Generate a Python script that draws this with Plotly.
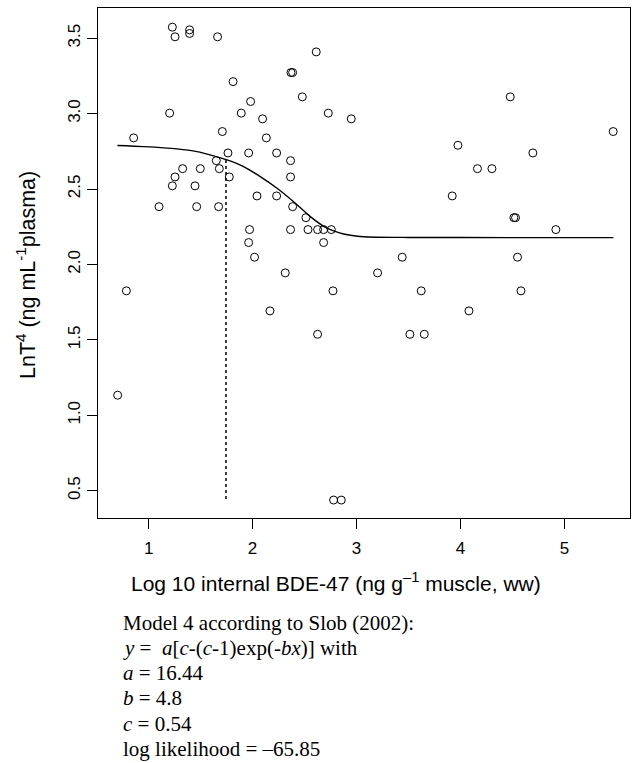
import plotly.graph_objects as go

# observed data (log10 BDE-47, LnT4)
bde47 = [1.228, 1.254, 1.394, 1.394, 1.663, 2.612, 2.369, 2.385, 1.812, 2.478,
         1.981, 1.202, 1.891, 2.728, 2.096, 2.949, 1.709, 0.856, 2.132, 1.763,
         1.962, 2.231, 1.651, 2.365, 1.327, 1.497, 1.680, 1.254, 1.776, 2.365,
         1.228, 1.446, 2.042, 2.231, 1.100, 1.462, 1.673, 2.385, 2.513, 1.971,
         2.365, 2.533, 2.625, 2.683, 2.757, 1.962, 2.683, 2.019, 2.314, 0.786,
         2.773, 2.167, 2.625, 0.702, 2.779, 2.853, 4.478, 5.468, 3.975, 4.696,
         4.163, 4.302, 3.920, 4.513, 4.529, 4.917, 3.439, 4.548, 3.202, 3.622,
         4.581, 4.081, 3.513, 3.651]
lnt4 = [3.573, 3.509, 3.555, 3.531, 3.509, 3.409, 3.272, 3.272, 3.212, 3.111,
        3.080, 3.003, 3.003, 3.003, 2.965, 2.965, 2.881, 2.839, 2.839, 2.739,
        2.739, 2.739, 2.688, 2.688, 2.635, 2.635, 2.635, 2.580, 2.580, 2.580,
        2.521, 2.521, 2.454, 2.454, 2.383, 2.383, 2.383, 2.383, 2.310, 2.231,
        2.231, 2.231, 2.231, 2.231, 2.231, 2.145, 2.145, 2.048, 1.944, 1.825,
        1.825, 1.692, 1.537, 1.133, 0.438, 0.438, 3.111, 2.881, 2.790, 2.739,
        2.635, 2.635, 2.454, 2.310, 2.310, 2.231, 2.048, 2.048, 1.944, 1.825,
        1.825, 1.692, 1.537, 1.537]

# fitted curve
fit_x = [0.70, 0.952, 1.273, 1.465, 1.625, 1.754, 1.913, 2.074, 2.235, 2.394,
         2.555, 2.715, 2.875, 3.067, 3.5, 4.5, 5.47]
fit_y = [2.788, 2.781, 2.766, 2.748, 2.720, 2.693, 2.649, 2.582, 2.505, 2.416,
         2.317, 2.240, 2.202, 2.184, 2.179, 2.178, 2.178]

# critical effect dose marker
ced_x = [1.744, 1.744]
ced_y = [2.693, 0.438]

x_ticks = [1, 2, 3, 4, 5]
y_ticks = [0.5, 1.0, 1.5, 2.0, 2.5, 3.0, 3.5]
y_ticktext = ["0.5", "1.0", "1.5", "2.0", "2.5", "3.0", "3.5"]

model_lines = [
    "Model 4 according to Slob (2002):",
    "<i>y</i> =  <i>a</i>[<i>c</i>-(<i>c</i>-1)exp(-<i>bx</i>)] with",
    "<i>a</i> = 16.44",
    "<i>b</i> = 4.8",
    "<i>c</i> = 0.54",
    "log likelihood = \u201365.85",
]

W, H = 640, 763
L, R, T, B = 98, 10, 8, 245
plot_h = H - T - B
plot_w = W - L - R

def py2paper(py):
    return (H - B - py) / plot_h

def px2paper(px):
    return (px - L) / plot_w

fig = go.Figure()
fig.add_trace(go.Scatter(x=bde47, y=lnt4, mode="markers",
                         marker=dict(symbol="circle-open", size=8, color="black",
                                     line=dict(width=1, color="black")),
                         showlegend=False))
fig.add_trace(go.Scatter(x=fit_x, y=fit_y, mode="lines",
                         line=dict(color="black", width=1.4, shape="spline", smoothing=0.6),
                         showlegend=False))
fig.add_trace(go.Scatter(x=ced_x, y=ced_y, mode="lines",
                         line=dict(color="black", width=1.5, dash="dot"),
                         showlegend=False))

sans = "Liberation Sans, Arial, sans-serif"
serif = "Liberation Serif, Times New Roman, serif"

fig.update_xaxes(range=[0.513, 5.63], tickvals=x_ticks, ticks="outside", ticklen=10,
                 tickwidth=1, tickcolor="black", showline=True, linecolor="black",
                 linewidth=1, mirror=True, showgrid=False, zeroline=False,
                 ticklabelstandoff=5,
                 tickfont=dict(family=sans, size=17, color="black"))
fig.update_yaxes(range=[0.319, 3.70], tickvals=y_ticks, ticktext=y_ticktext,
                 ticks="outside", ticklen=10, tickangle=-90,
                 tickwidth=1, tickcolor="black", showline=True, linecolor="black",
                 linewidth=1, mirror=True, showgrid=False, zeroline=False,
                 tickfont=dict(family=sans, size=17, color="black"))

annotations = [
    dict(text="Log 10 internal BDE-47 (ng g<sup>\u20131</sup> muscle, ww)",
         x=px2paper(336), y=py2paper(582), xref="paper", yref="paper",
         xanchor="center", yanchor="middle", showarrow=False,
         font=dict(family=sans, size=21, color="black")),
    dict(text="LnT<sup>4</sup> (ng mL<sup>-1</sup>plasma)",
         x=px2paper(26), y=py2paper(275), xref="paper", yref="paper",
         xanchor="center", yanchor="middle", showarrow=False, textangle=-90,
         font=dict(family=sans, size=21.5, color="black")),
]
line_centers = [623.3, 648.3, 673.3, 698.3, 724.0, 749.3]
for txt, cy in zip(model_lines, line_centers):
    annotations.append(dict(text=txt, x=px2paper(121), y=py2paper(cy),
                            xref="paper", yref="paper", xanchor="left",
                            yanchor="middle", showarrow=False,
                            font=dict(family=serif, size=21, color="black")))

fig.update_layout(width=W, height=H, margin=dict(l=L, r=R, t=T, b=B),
                  plot_bgcolor="white", paper_bgcolor="white",
                  annotations=annotations, showlegend=False)

fig.write_html("out.html")
